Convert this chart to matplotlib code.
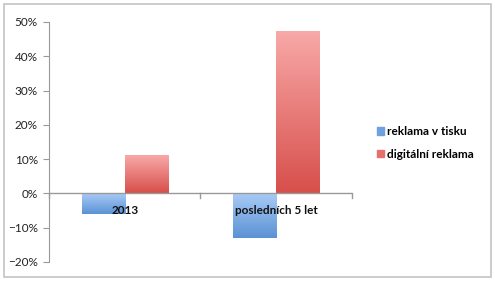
import numpy as np
import matplotlib
matplotlib.use("Agg")
import matplotlib.pyplot as plt
from matplotlib.colors import LinearSegmentedColormap
from matplotlib.patches import Rectangle
from matplotlib.ticker import PercentFormatter

# data
categories = ["2013", "posledních 5 let"]
series_names = ["reklama v tisku", "digitální reklama"]
print_ads = [-0.06, -0.13]
digital_ads = [0.11, 0.47]

plt.rcParams["font.family"] = ["Lato", "DejaVu Sans"]

fig = plt.figure(figsize=(4.95, 2.84), dpi=100)
ax = fig.add_axes([49 / 495, 1 - 262 / 284, (352 - 49) / 495, (262 - 22) / 284])

# outer chart border
fig.patches.append(Rectangle((4 / 495, 1 - 277 / 284), 487 / 495, 273 / 284,
                             transform=fig.transFigure, fill=False,
                             edgecolor="#c4c4c4", lw=1.2))

x = np.arange(len(categories))
w = 0.285
blue_cmap = LinearSegmentedColormap.from_list("b", ["#5b92d4", "#a9cbf7"])
red_cmap = LinearSegmentedColormap.from_list("r", ["#d74f4b", "#f8a9a8"])

bars1 = ax.bar(x - w / 2, print_ads, w, color="#7eaee8", label=series_names[0])
bars2 = ax.bar(x + w / 2, digital_ads, w, color="#ec8482", label=series_names[1])

# gradient fill over each bar
grad = np.linspace(0, 1, 256).reshape(-1, 1)
for bars, cmap in [(bars1, blue_cmap), (bars2, red_cmap)]:
    for b in bars:
        x0, y0 = b.get_x(), b.get_y()
        bw, bh = b.get_width(), b.get_height()
        lo, hi = min(y0, y0 + bh), max(y0, y0 + bh)
        ax.imshow(grad, cmap=cmap, origin="lower", aspect="auto",
                  extent=[x0, x0 + bw, lo, hi], zorder=2)
        b.set_alpha(0)

ax.set_xlim(-0.5, len(categories) - 0.5)
ax.set_ylim(-0.2, 0.5)
ax.set_yticks(np.arange(-0.2, 0.51, 0.1))
ax.yaxis.set_major_formatter(PercentFormatter(1.0, decimals=0))
ax.tick_params(axis="y", length=4, color="#999999", labelsize=8.5, pad=4,
               labelcolor="#222222")

for s in ["top", "right", "bottom"]:
    ax.spines[s].set_visible(False)
ax.spines["left"].set_color("#999999")

# zero axis with category separators
ax.axhline(0, color="#999999", lw=1, zorder=3)
ax.set_xticks([])
for xb in np.arange(-0.5, len(categories), 1.0):
    ax.plot([xb, xb], [0, -0.012], color="#999999", lw=1, clip_on=False, zorder=3)

for xi, cat in zip(x, categories):
    ax.text(xi, -0.05, cat, ha="center", va="center", fontsize=8.5,
            fontweight="bold", color="#111111", zorder=4)

handles = [Rectangle((0, 0), 1, 1, color="#6fa0e0"),
           Rectangle((0, 0), 1, 1, color="#e6706d")]
fig.legend(handles, series_names, loc="center left",
           bbox_to_anchor=(366 / 495, 1 - 143 / 284), frameon=False,
           handlelength=0.6, handleheight=0.6, handletextpad=0.3,
           labelspacing=0.95, prop={"weight": "bold", "size": 8.5})

fig.savefig("out.png", dpi=100)
